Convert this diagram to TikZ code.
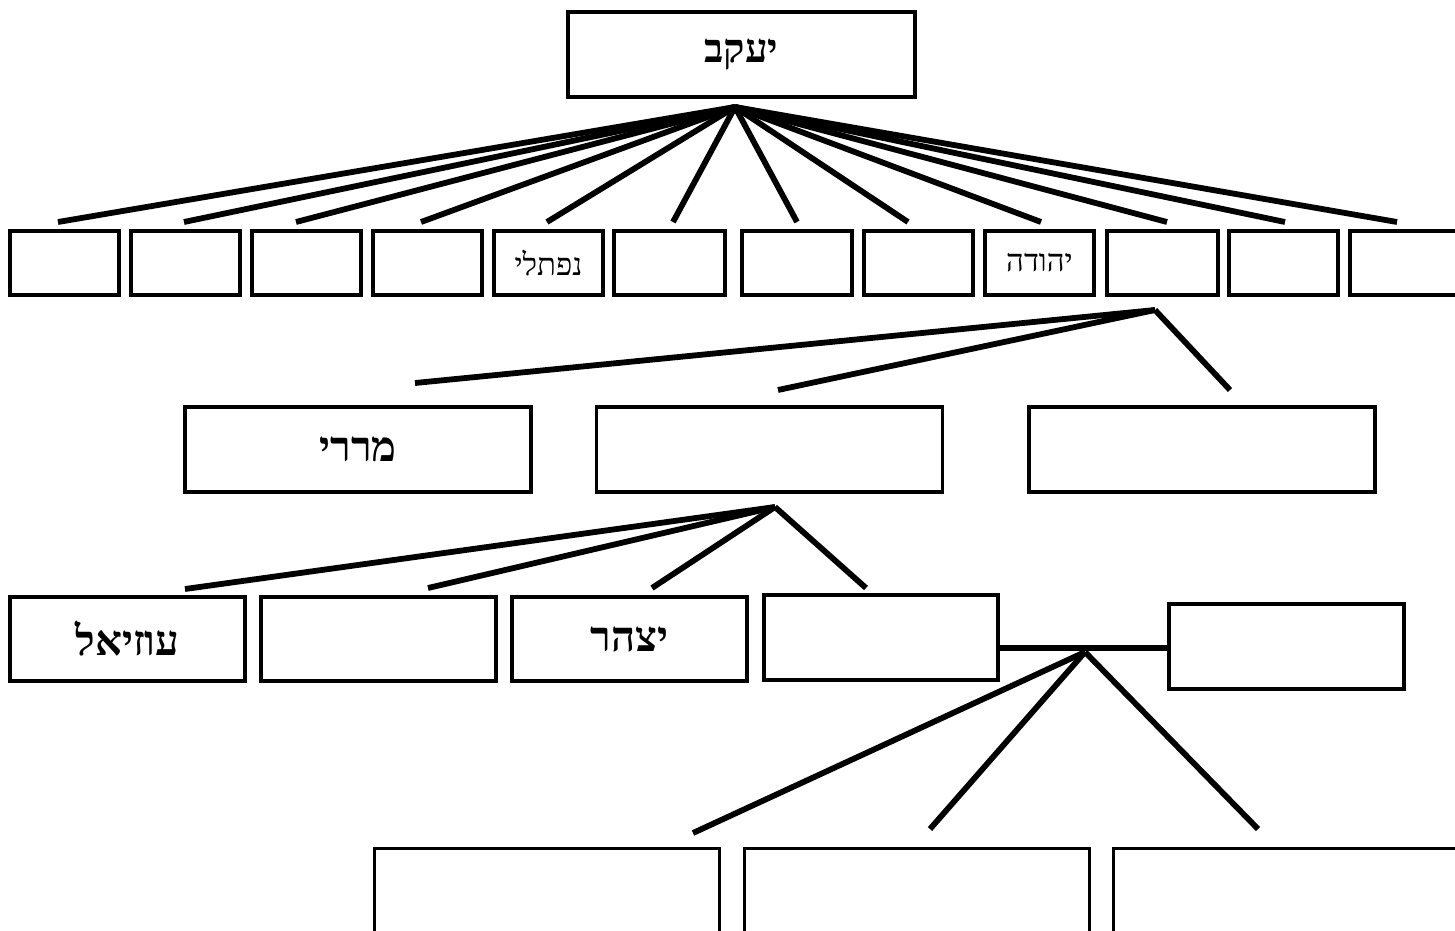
\documentclass[tikz,border=0pt]{standalone}
\usepackage{fontspec}
\newfontfamily\heb[Script=Hebrew]{Liberation Serif}
\TeXXeTstate=1
\tikzset{
  box/.style={draw, line width=3.8pt, inner sep=0pt, fill=white},
  topbox/.style={box, minimum width=347pt, minimum height=85pt},
  smallbox/.style={box, minimum width=109pt, minimum height=64pt},
  midbox/.style={box, minimum width=346pt, minimum height=85pt},
  thirdbox/.style={box, minimum width=235pt, minimum height=84pt},
  lowbox/.style={box, line width=3pt, minimum width=345pt, minimum height=140pt},
  fan/.style={line width=5.8pt},
}
\newcommand{\hebt}[2]{{\heb\fontsize{#1}{#1}\selectfont\beginR #2\endR}}
\newcommand{\hebb}[2]{{\heb\bfseries\fontsize{#1}{#1}\selectfont\beginR #2\endR}}
\begin{document}
\begin{tikzpicture}[x=1pt,y=-1pt]
\clip (0,0) rectangle (1455,930);
\fill[white] (0,0) rectangle (1455,930);
% top
\node[topbox] (top) at (741.5,54.5) {\hebb{40pt}{יעקב}};
% row 1
\node[smallbox] (r1) at (64.5,263) {};
\node[smallbox] (r2) at (185.5,263) {};
\node[smallbox] (r3) at (306.5,263) {};
\node[smallbox] (r4) at (427.5,263) {};
\node[smallbox] (r5) at (548.5,263) {\hebt{31pt}{נפתלי}};
\node[smallbox, minimum width=111pt] (r6) at (669.5,263) {};
\node[smallbox, minimum width=110pt] (r7) at (797,263) {};
\node[smallbox] (r8) at (918.5,263) {};
\node[smallbox] (r9) at (1039.5,263) {\hebt{31pt}{יהודה}};
\node[smallbox, minimum width=111pt] (r10) at (1162.5,263) {};
\node[smallbox] (r11) at (1283.5,263) {};
\node[smallbox] (r12) at (1404.5,263) {};
\coordinate (o1) at (735,107);
\foreach \x/\i in {58/1,184/2,296/3,421/4,547/5,673/6,797/7,908/8,1041/9,1167/10,1285/11,1397/12}{
  \coordinate (e\i) at (\x,222);
  \draw[fan] (o1) -- (e\i);
}
% row 2
\node[midbox] (mA) at (358,449.5) {\hebb{42pt}{מררי}};
\node[midbox] (mB) at (769.5,449.5) {};
\node[midbox] (mC) at (1202,449.5) {};
\coordinate (o2) at (1155,310);
\coordinate (f1) at (415,383);
\coordinate (f2) at (778,390);
\coordinate (f3) at (1230,390);
\draw[fan] (o2) -- (f1);
\draw[fan] (o2) -- (f2);
\draw[fan] (o2) -- (f3);
% row 3
\node[thirdbox] (ta) at (127.5,639) {\hebb{42pt}{עוזיאל}};
\node[thirdbox] (tb) at (378.5,639) {};
\node[thirdbox] (tc) at (629.5,639) {\hebb{42pt}{יצהר}};
\node[thirdbox, minimum width=234pt, minimum height=85pt] (td) at (881,637.5) {};
\node[thirdbox, minimum height=85pt] (te) at (1286.5,646.5) {};
\coordinate (o3) at (775,507);
\coordinate (g1) at (185,589);
\coordinate (g2) at (428,588);
\coordinate (g3) at (652,588);
\coordinate (g4) at (866,588);
\draw[fan] (o3) -- (g1);
\draw[fan] (o3) -- (g2);
\draw[fan] (o3) -- (g3);
\draw[fan] (o3) -- (g4);
\coordinate (hub) at (1085,648);
\draw[fan] (hub -| td.east) -- (hub -| te.west);
% row 4
\node[lowbox] (la) at (546.5,918) {};
\node[lowbox] (lb) at (916.5,918) {};
\node[lowbox] (lc) at (1285.5,918) {};
\coordinate (o4) at (1085,652);
\coordinate (h1) at (693,833);
\coordinate (h2) at (930,829);
\coordinate (h3) at (1258,829);
\draw[fan] (o4) -- (h1);
\draw[fan] (o4) -- (h2);
\draw[fan] (o4) -- (h3);
\end{tikzpicture}
\end{document}
